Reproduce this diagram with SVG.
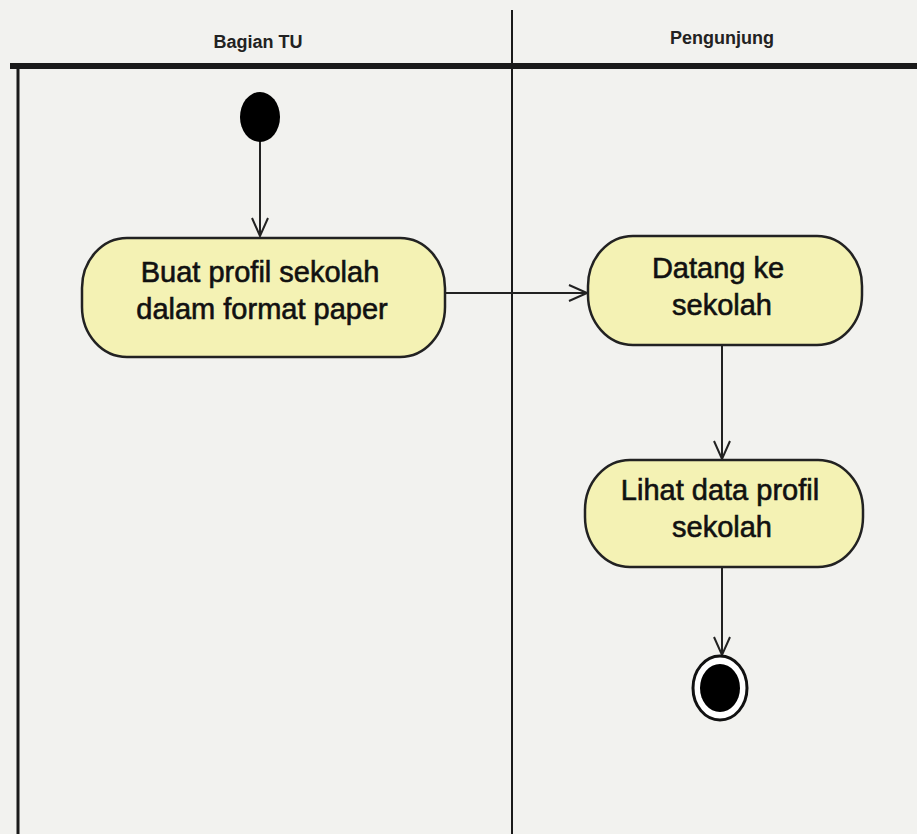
<svg xmlns="http://www.w3.org/2000/svg" width="917" height="834" viewBox="0 0 917 834">
<defs>
<style>
.lane{stroke:#1a1a1a;fill:none}
.hdr{font-family:"Liberation Sans",Arial,sans-serif;font-size:18px;font-weight:bold;fill:#222;text-anchor:middle}
.act{fill:#f4f2b4;stroke:#222;stroke-width:2.5}
.lbl{font-family:"Liberation Sans",Arial,sans-serif;font-size:29px;fill:#111;stroke:#111;stroke-width:0.6;text-anchor:middle}
.con{stroke:#222;stroke-width:2;fill:none}
</style>
<marker id="arr" markerWidth="22" markerHeight="22" refX="20" refY="11" orient="auto" markerUnits="userSpaceOnUse">
<path d="M2,3 L20,11 L2,19" fill="none" stroke="#222" stroke-width="2"/>
</marker>
</defs>
<rect width="917" height="834" fill="#f2f2ef"/>
<g id="lanes">
<line class="lane" x1="10" y1="66" x2="917" y2="66" stroke-width="6"/>
<line class="lane" x1="18" y1="66" x2="18" y2="834" stroke-width="3"/>
<line class="lane" x1="512" y1="10" x2="512" y2="834" stroke-width="2"/>
<text class="hdr" x="258" y="48">Bagian TU</text>
<text class="hdr" x="722" y="44">Pengunjung</text>
</g>
<g id="connectors">
<line class="con" x1="260" y1="140" x2="260" y2="236" marker-end="url(#arr)"/>
<line class="con" x1="444" y1="293" x2="587" y2="293" marker-end="url(#arr)"/>
<line class="con" x1="722" y1="345" x2="722" y2="459" marker-end="url(#arr)"/>
<line class="con" x1="722" y1="567" x2="722" y2="655" marker-end="url(#arr)"/>
</g>
<g id="start">
<ellipse cx="260" cy="117" rx="20" ry="25" fill="#000"/>
</g>
<g id="buat-profil">
<rect class="act" x="82" y="238" width="363" height="119" rx="45" ry="50"/>
<text class="lbl" x="260" y="282">Buat profil sekolah</text>
<text class="lbl" x="262" y="319">dalam format paper</text>
</g>
<g id="datang">
<rect class="act" x="588" y="236" width="274" height="109" rx="45" ry="50"/>
<text class="lbl" x="718" y="278">Datang ke</text>
<text class="lbl" x="722" y="315">sekolah</text>
</g>
<g id="lihat">
<rect class="act" x="585" y="460" width="278" height="107" rx="45" ry="50"/>
<text class="lbl" x="720" y="500">Lihat data profil</text>
<text class="lbl" x="722" y="537">sekolah</text>
</g>
<g id="end">
<ellipse cx="720" cy="688" rx="27" ry="32" fill="#fff" stroke="#111" stroke-width="3"/>
<ellipse cx="720" cy="688" rx="20" ry="24" fill="#000"/>
</g>
</svg>
